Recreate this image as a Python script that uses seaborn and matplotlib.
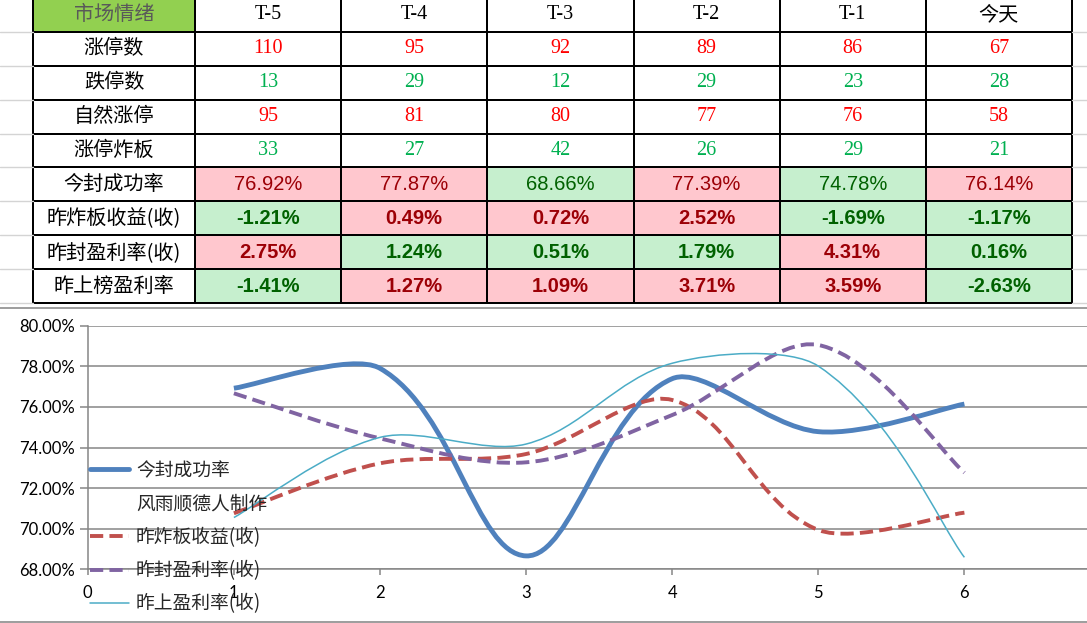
import numpy as np
import seaborn as sns
import matplotlib.pyplot as plt
from matplotlib.colors import ListedColormap
from matplotlib.path import Path
from matplotlib.patches import PathPatch
from matplotlib.lines import Line2D

# 表格数据
header = ['T-5', 'T-4', 'T-3', 'T-2', 'T-1', '今天']
row_labels = ['涨停数', '跌停数', '自然涨停', '涨停炸板', '今封成功率',
              '昨炸板收益(收)', '昨封盈利率(收)', '昨上榜盈利率']
limit_up = [110, 95, 92, 89, 86, 67]
limit_down = [13, 29, 12, 29, 23, 28]
natural_up = [95, 81, 80, 77, 76, 58]
broken = [33, 27, 42, 26, 29, 21]
seal_rate = [76.92, 77.87, 68.66, 77.39, 74.78, 76.14]
broken_ret = [-1.21, 0.49, 0.72, 2.52, -1.69, -1.17]
seal_ret = [2.75, 1.24, 0.51, 1.79, 4.31, 0.16]
board_ret = [-1.41, 1.27, 1.09, 3.71, 3.59, -2.63]
# 条件格式: 1 = 粉色, 0 = 绿色
seal_rate_hi = [1, 1, 0, 1, 0, 1]
broken_ret_hi = [0, 1, 1, 1, 0, 0]
seal_ret_hi = [1, 0, 0, 0, 1, 0]
board_ret_hi = [0, 1, 1, 1, 1, 0]

# 折线图数据
days = [1, 2, 3, 4, 5, 6]
line_seal = [76.92, 77.9, 68.66, 77.39, 74.78, 76.14]
line_broken = [70.76, 73.22, 73.68, 76.34, 69.94, 70.79]
line_sealret = [76.67, 74.45, 73.27, 75.6, 79.05, 72.76]
line_board = [70.55, 74.5, 74.17, 78.15, 78.01, 68.59]
legend_labels = ['今封成功率', '风雨顺德人制作', '昨炸板收益(收)', '昨封盈利率(收)', '昨上盈利率(收)']

sns.set_theme(style='white')
plt.rcParams['font.family'] = ['Noto Sans CJK SC', 'DejaVu Sans']

W, H = 1087, 623
fig = plt.figure(figsize=(W / 100, H / 100), dpi=100)
fig.patch.set_facecolor('white')


def fx(px):
    return px / W


def fy(py):
    return 1 - py / H


# 表格外的浅灰色网格线
row_h = 33.9
top = 303 - 9 * row_h
for i in range(1, 10):
    yy = fy(top + i * row_h)
    fig.add_artist(Line2D([0, fx(33)], [yy, yy], color='#d4d4d4', lw=1))
    fig.add_artist(Line2D([fx(1072), 1], [yy, yy], color='#d4d4d4', lw=1))
fig.add_artist(Line2D([0, 1], [fy(308), fy(308)], color='#8c8c8c', lw=1.2))
fig.add_artist(Line2D([0, 1], [fy(621.5), fy(621.5)], color='#8c8c8c', lw=1.2))

cmap = ListedColormap(['white', '#92D050', '#FFC7CE', '#C6EFCE'])

# 左侧标签列
ax_l = fig.add_axes([fx(33), fy(303), fx(162), (9 * row_h) / H])
lab_codes = np.array([[1]] + [[0]] * 8)
sns.heatmap(lab_codes, ax=ax_l, cmap=cmap, vmin=0, vmax=3, cbar=False,
            linewidths=1.1, linecolor='black', xticklabels=False, yticklabels=False)
ax_l.collections[0].set_clip_on(False)
ax_l.text(0.5, 0.5, '市场情绪', ha='center', va='center', fontsize=14.5, color='#595959')
for i, lab in enumerate(row_labels):
    ax_l.text(0.5, i + 1.5, lab, ha='center', va='center', fontsize=14.5, color='black')

# 数据区域
ax_d = fig.add_axes([fx(195), fy(303), fx(877), (9 * row_h) / H])
codes = np.zeros((9, 6))
for r, flags in zip([5, 6, 7, 8], [seal_rate_hi, broken_ret_hi, seal_ret_hi, board_ret_hi]):
    codes[r] = [2 if f else 3 for f in flags]
sns.heatmap(codes, ax=ax_d, cmap=cmap, vmin=0, vmax=3, cbar=False,
            linewidths=1.1, linecolor='black', xticklabels=False, yticklabels=False)
ax_d.collections[0].set_clip_on(False)

serif = ['Liberation Serif', 'Noto Sans CJK SC']
for j in range(6):
    ax_d.text(j + 0.5, 0.5, header[j], ha='center', va='center', fontsize=14.5,
              family=serif if header[j].startswith('T') else ['Noto Sans CJK SC'], color='black')
    for r, vals, col in [(1, limit_up, '#FF0000'), (2, limit_down, '#00B050'),
                         (3, natural_up, '#FF0000'), (4, broken, '#00B050')]:
        ax_d.text(j + 0.5, r + 0.5, str(vals[j]), ha='center', va='center',
                  fontsize=14.5, family=serif, color=col)
    for r, vals, flags, wt in [(5, seal_rate, seal_rate_hi, 'normal'),
                               (6, broken_ret, broken_ret_hi, 'bold'),
                               (7, seal_ret, seal_ret_hi, 'bold'),
                               (8, board_ret, board_ret_hi, 'bold')]:
        ax_d.text(j + 0.5, r + 0.5, f'{vals[j]:.2f}%', ha='center', va='center',
                  fontsize=14.5, family=['Liberation Sans'], fontweight=wt,
                  color='#9C0006' if flags[j] else '#006100')

# 折线图
unit_x, unit_y = 146.1, 20.3
ax = fig.add_axes([fx(87.8), fy(569.3), 7 * unit_x / W, 12 * unit_y / H])
ax.set_xlim(0, 7)
ax.set_ylim(68, 80)
ax.set_facecolor('none')
ax.set_yticks(np.arange(68, 80.1, 2))
ax.set_yticklabels([f'{v:.2f}%' for v in np.arange(68, 80.1, 2)])
ax.set_xticks(range(0, 7))
ax.yaxis.grid(True, color='#868686', lw=1.1)
ax.xaxis.grid(False)
for s in ['top', 'right']:
    ax.spines[s].set_visible(False)
for s in ['left', 'bottom']:
    ax.spines[s].set_color('#868686')
    ax.spines[s].set_linewidth(1.1)
ax.tick_params(axis='y', left=True, length=6, width=1.1, color='#868686', pad=3,
               labelsize=12, labelcolor='black')
ax.tick_params(axis='x', bottom=True, length=4.5, width=1.1, color='#868686', pad=7,
               labelsize=12, labelcolor='black')
for t in ax.get_xticklabels() + ax.get_yticklabels():
    t.set_family(['Lato', 'DejaVu Sans'])


def smooth_path(xs, ys, f=1 / 6):
    # 类似 Excel 的平滑线: Catmull-Rom 控制点, 按屏幕弦长加权
    pts = np.column_stack([xs, ys]).astype(float)
    scr = pts * [unit_x, unit_y]
    n = len(pts)
    seg = [np.linalg.norm(scr[i + 1] - scr[i]) for i in range(n - 1)]
    verts = [pts[0]]
    cds = [Path.MOVETO]
    for i in range(n - 1):
        p0 = pts[i - 1] if i > 0 else pts[i]
        p3 = pts[i + 2] if i + 2 < n else pts[i + 1]
        w1 = (2 * seg[i] / (seg[i - 1] + seg[i])) ** 2 if i > 0 else 1.0
        w2 = (2 * seg[i] / (seg[i] + seg[i + 1])) ** 2 if i + 2 < n else 1.0
        c1 = pts[i] + (pts[i + 1] - p0) * f * w1
        c2 = pts[i + 1] - (p3 - pts[i]) * f * w2
        verts += [c1, c2, pts[i + 1]]
        cds += [Path.CURVE4] * 3
    return Path(verts, cds)


dash = (3.4, 1.6)
series = [
    (line_seal, dict(edgecolor='#4F81BD', lw=3.5, linestyle='-')),
    (line_broken, dict(edgecolor='#C0504D', lw=2.8, linestyle=(0, dash))),
    (line_sealret, dict(edgecolor='#8064A2', lw=2.8, linestyle=(0, dash))),
    (line_board, dict(edgecolor='#4BACC6', lw=1.1, linestyle='-')),
]
for k, (vals, st) in enumerate(series):
    ax.add_patch(PathPatch(smooth_path(days, vals), fill=False, capstyle='butt',
                           joinstyle='round', zorder=3 + k, **st))

handles = [
    Line2D([], [], color='#4F81BD', lw=3.5),
    Line2D([], [], color='none'),
    Line2D([], [], color='#C0504D', lw=2.8, dashes=dash),
    Line2D([], [], color='#8064A2', lw=2.8, dashes=dash),
    Line2D([], [], color='#4BACC6', lw=1.1),
]
fig.legend(handles, legend_labels, loc='upper left', bbox_to_anchor=(fx(90), fy(460)),
           frameon=False, fontsize=13.5, handlelength=2.1, handletextpad=0.35,
           labelspacing=0.66, borderpad=0, borderaxespad=0)

fig.savefig('out.png', dpi=100)
